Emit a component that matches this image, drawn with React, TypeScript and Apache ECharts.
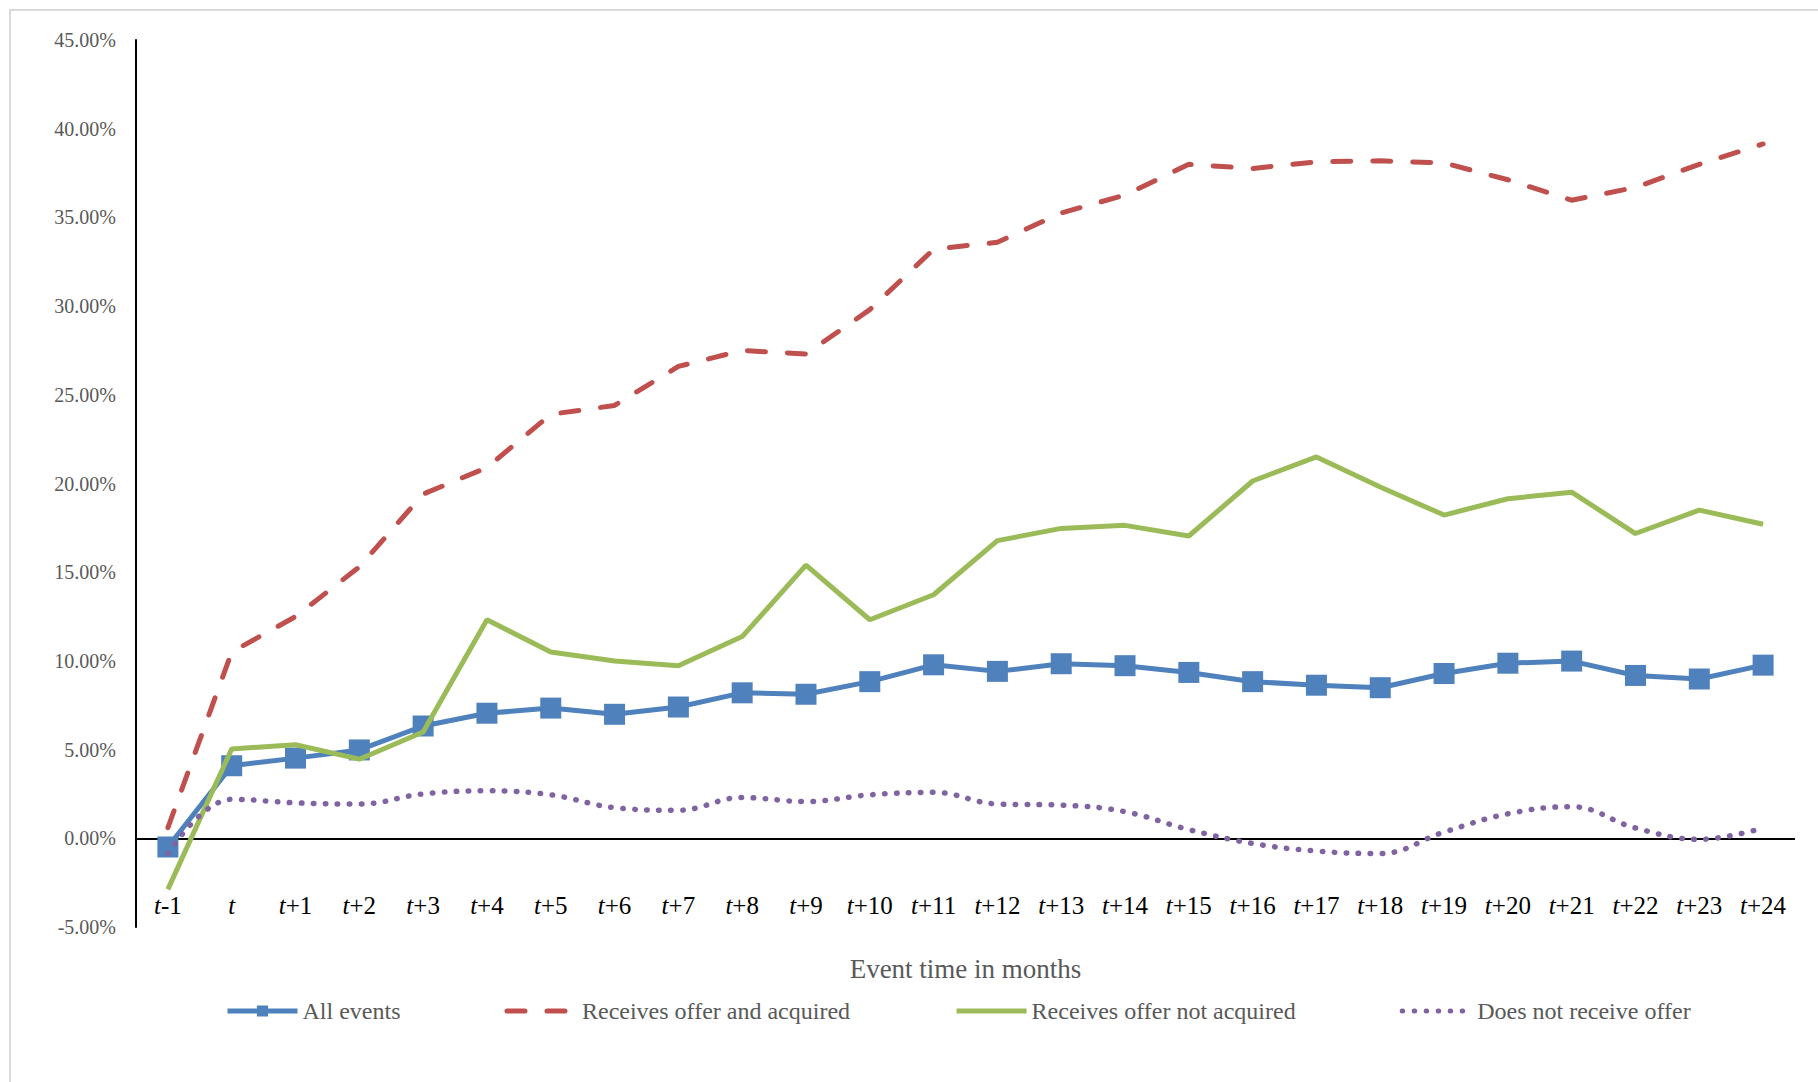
import React, { useEffect, useRef } from "react";
import * as echarts from "echarts";

const categories = [
  "t-1", "t", "t+1", "t+2", "t+3", "t+4", "t+5", "t+6", "t+7", "t+8", "t+9", "t+10", "t+11",
  "t+12", "t+13", "t+14", "t+15", "t+16", "t+17", "t+18", "t+19", "t+20", "t+21", "t+22", "t+23", "t+24",
];

const allEvents = [
  -0.49, 4.09, 4.52, 4.98, 6.33, 7.05, 7.34, 6.99, 7.4, 8.2, 8.12, 8.83, 9.78,
  9.41, 9.84, 9.73, 9.35, 8.83, 8.63, 8.49, 9.29, 9.87, 9.99, 9.18, 8.98, 9.76,
];

const offerAcquired = [
  0.6, 10.5, 12.5, 15.3, 19.4, 20.9, 23.9, 24.4, 26.6, 27.5, 27.3, 29.8, 33.2,
  33.6, 35.25, 36.26, 37.99, 37.76, 38.13, 38.19, 38.07, 37.12, 35.97, 36.69, 37.99, 39.14,
];

const offerNotAcquired = [
  -2.88, 5.04, 5.27, 4.46, 5.99, 12.32, 10.5, 9.99, 9.73, 11.37, 15.4, 12.32, 13.73,
  16.78, 17.47, 17.64, 17.04, 20.14, 21.5, 19.8, 18.22, 19.14, 19.51, 17.18, 18.5, 17.7,
];

const noOffer = [
  -0.86, 2.2, 2.0, 1.93, 2.5, 2.68, 2.45, 1.73, 1.58, 2.3, 2.07, 2.45, 2.59,
  1.93, 1.87, 1.5, 0.49, -0.29, -0.72, -0.86, 0.35, 1.38, 1.78, 0.58, -0.06, 0.58,
];

const seriesNames = [
  "All events",
  "Receives offer and acquired",
  "Receives offer not acquired",
  "Does not receive offer",
];

const FONT = "'Liberation Serif', 'Times New Roman', serif";

export default function App() {
  const ref = useRef<HTMLDivElement>(null);

  useEffect(() => {
    if (!ref.current) return;
    const chart = echarts.init(ref.current, null, { renderer: "svg" });
    chart.setOption({
      animation: false,
      backgroundColor: "#ffffff",
      textStyle: { fontFamily: FONT },
      graphic: [
        {
          type: "rect",
          shape: { x: 10, y: 10, width: 1840, height: 1100 },
          style: { fill: "none", stroke: "#d9d9d9", lineWidth: 2 },
          silent: true,
          z: -10,
        },
      ],
      grid: { left: 136, right: 23, top: 40, bottom: 155, containLabel: false },
      legend: {
        left: 220,
        top: 994,
        itemGap: 104,
        itemWidth: 70,
        itemHeight: 14,
        data: [
          { name: seriesNames[0] },
          { name: seriesNames[1], itemStyle: { opacity: 0 } },
          { name: seriesNames[2], itemStyle: { opacity: 0 } },
          { name: seriesNames[3], itemStyle: { opacity: 0 } },
        ],
        textStyle: { fontFamily: FONT, fontSize: 24, color: "#595959" },
        lineStyle: { width: 5 },
      },
      xAxis: {
        type: "category",
        data: categories,
        boundaryGap: true,
        name: "Event time in months",
        nameLocation: "middle",
        nameGap: 28,
        nameTextStyle: { fontFamily: FONT, fontSize: 27, color: "#595959" },
        axisLine: { show: false, onZero: false },
        axisTick: { show: false },
        splitLine: { show: false },
        axisLabel: {
          margin: -34,
          interval: 0,
          formatter: (v: string) => `{i|t}{n|${v.slice(1)}}`,
          rich: {
            i: { fontFamily: FONT, fontStyle: "italic", fontSize: 25, color: "#000000" },
            n: { fontFamily: FONT, fontSize: 25, color: "#000000" },
          },
        },
      },
      yAxis: {
        type: "value",
        min: -5,
        max: 45,
        interval: 5,
        axisLine: {
          show: true,
          lineStyle: { color: "#000000", width: 2 },
        },
        axisTick: { show: false },
        splitLine: { show: false },
        axisLabel: {
          margin: 20,
          fontFamily: FONT,
          fontSize: 20,
          color: "#595959",
          formatter: (v: number) => `${v.toFixed(2)}%`,
        },
      },
      series: [
        {
          name: seriesNames[0],
          type: "line",
          data: allEvents,
          symbol: "rect",
          symbolSize: 21,
          itemStyle: { color: "#4F81BD" },
          lineStyle: { color: "#4F81BD", width: 5 },
          z: 2,
          markLine: {
            silent: true,
            symbol: ["none", "none"],
            label: { show: false },
            lineStyle: { color: "#000000", width: 2, type: "solid" },
            data: [{ yAxis: 0 }],
            z: 1,
          },
        },
        {
          name: seriesNames[1],
          type: "line",
          data: offerAcquired,
          symbol: "none",
          itemStyle: { color: "#C0504D" },
          lineStyle: { color: "#C0504D", width: 5, type: [18, 22], cap: "round" },
          z: 3,
        },
        {
          name: seriesNames[2],
          type: "line",
          data: offerNotAcquired,
          symbol: "none",
          itemStyle: { color: "#9BBB59" },
          lineStyle: { color: "#9BBB59", width: 5 },
          z: 4,
        },
        {
          name: seriesNames[3],
          type: "line",
          data: noOffer,
          symbol: "none",
          smooth: 0.4,
          itemStyle: { color: "#8064A2" },
          lineStyle: { color: "#8064A2", width: 5.5, type: [0.5, 11.5], cap: "round" },
          z: 5,
        },
      ],
    });
    return () => chart.dispose();
  }, []);

  return (
    <div
      ref={ref}
      style={{ position: "absolute", left: 0, top: 0, width: 1818, height: 1082 }}
    />
  );
}
